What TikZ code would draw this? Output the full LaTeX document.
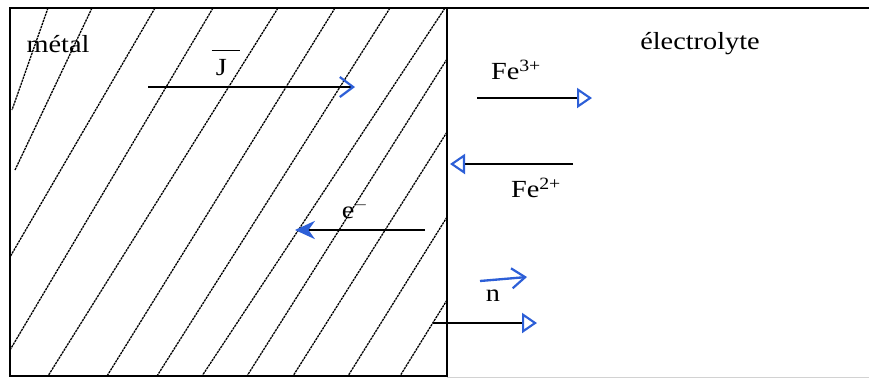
\documentclass[tikz,border=0pt]{standalone}
\usepackage{fontspec}
\setmainfont{Liberation Serif}[FakeStretch=1.15]
\usetikzlibrary{arrows.meta}
\definecolor{penblue}{RGB}{45,95,215}

\begin{document}
\begin{tikzpicture}[
  x=0.03cm,y=-0.03cm,
  lbl/.style={inner sep=0pt,font=\fontsize{21}{24}\selectfont},
  wall/.style={line width=1.4pt},
  hatch/.style={line width=1.1pt,dash pattern=on 2pt off 0.7pt},
  vec/.style={line width=1.2pt,-{Triangle[open,length=4.5mm,width=6mm,color=penblue,line width=1.8pt]}},
  barb/.style={line width=1.2pt,-{Straight Barb[length=4mm,width=6mm,color=penblue,line width=1.9pt]}},
  elec/.style={line width=1.2pt,-{Stealth[length=6mm,width=5.5mm,color=penblue,fill=penblue]}}
]
  \useasboundingbox (0,0) rectangle (869,378);
  \draw[wall] (869,8) -- (10,8) -- (10,376) -- (447,376) -- (447,8);
  \draw[gray!35,line width=0.8pt] (447,377) -- (869,377);
  \begin{scope}
    \clip (10,8) rectangle (447,376);
    \foreach \xa/\ya/\xb/\yb in {48/8/12/110,92/8/15/170,155/8/10/257,213/8/10/350,
      278/8/48/376,335/8/107/376,390/8/157/376,445/8/202/376,
      447/59/247/376,447/132/293/376,447/217/348/376,447/300/400/376}
      \draw[hatch] (\xa,\ya) -- (\xb,\yb);
  \end{scope}

  \node[lbl] (metal) at (58,44) {métal};
  \node[lbl] (electro) at (700,44) {électrolyte};
  \node[lbl] (J) at (226,63) {$\overline{\mbox{\rule{0pt}{0.95em}\,J\hspace{0.55em}}}$};
  \node[lbl] (fe3) at (516,70) {Fe\textsuperscript{3+}};
  \node[lbl] (fe2) at (536,188) {Fe\textsuperscript{2+}};
  \node[lbl] (el) at (355,209) {e$^-$};
  \node[lbl] (n) at (493,296) {n};

  \coordinate (Jtail) at (148,87);
  \coordinate (Jhead) at (355,87);
  \coordinate (fe3tail) at (477,98);
  \coordinate (fe3head) at (592,98);
  \coordinate (fe2tail) at (573,164);
  \coordinate (fe2head) at (450,164);
  \coordinate (eltail) at (425,230);
  \coordinate (elhead) at (295,230);
  \coordinate (ntail) at (480,281);
  \coordinate (nhead) at (527,277);
  \coordinate (normtail) at (433,323);
  \coordinate (normhead) at (537,323);

  \draw[barb] (Jtail) -- (Jhead);
  \draw[vec] (fe3tail) -- (fe3head);
  \draw[vec] (fe2tail) -- (fe2head);
  \draw[elec] (eltail) -- (elhead);
  \draw[barb,penblue,line width=2pt] (ntail) -- (nhead);
  \draw[vec] (normtail) -- (normhead);
\end{tikzpicture}
\end{document}
